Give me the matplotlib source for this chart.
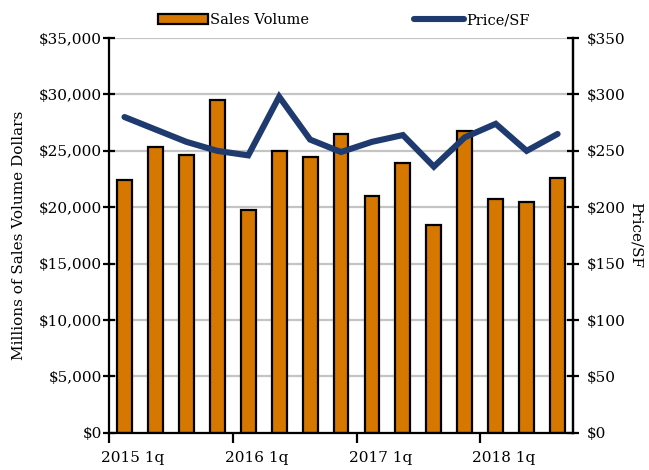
import matplotlib
matplotlib.use("Agg")
import matplotlib.pyplot as plt
import numpy as np
from matplotlib.lines import Line2D
from matplotlib.patches import Patch

quarters = ["2015 1q", "2015 2q", "2015 3q", "2015 4q",
            "2016 1q", "2016 2q", "2016 3q", "2016 4q",
            "2017 1q", "2017 2q", "2017 3q", "2017 4q",
            "2018 1q", "2018 2q", "2018 3q"]
sales_volume = [22400, 25300, 24600, 29500, 19800, 25000, 24500, 26500,
                21000, 23900, 18400, 26800, 20700, 20500, 22600]
price_sf = [280, 269, 258, 250, 246, 298, 260, 249, 258, 264, 236, 262, 274, 250, 265]
year_labels = ["2015 1q", "2016 1q", "2017 1q", "2018 1q"]

plt.rcParams['font.family'] = ['DejaVu Serif']

fig = plt.figure(figsize=(6.49, 4.70), dpi=100)
ax = fig.add_axes([0.168, 0.079, 0.715, 0.840])
x = np.arange(len(quarters))

ax.set_axisbelow(True)
ax.yaxis.grid(True, color='#c4c4c4', linewidth=1.6)
ax.bar(x, sales_volume, width=0.48, color='#D67800', edgecolor='black', linewidth=1.6, zorder=2)
ax.set_xlim(-0.5, len(quarters) - 0.5)
ax.set_ylim(0, 35000)
ax.set_yticks(np.arange(0, 35001, 5000))
ax.set_yticklabels([f"${v:,.0f}" for v in np.arange(0, 35001, 5000)], fontsize=11)
ax.tick_params(axis='y', direction='inout', length=8, width=1.6, pad=1)

# year ticks at category boundaries
major_pos = [quarters.index(q) - 0.5 for q in year_labels]
ax.set_xticks(major_pos)
ax.set_xticklabels([])
ax.tick_params(axis='x', which='major', direction='out', length=7, width=1.6)
ax.set_xticks([p + 0.77 for p in major_pos], minor=True)
ax.set_xticklabels(year_labels, minor=True, fontsize=11)
ax.tick_params(axis='x', which='minor', length=0, pad=13)

for s in ['top']:
    ax.spines[s].set_visible(False)
for s in ['left', 'bottom', 'right']:
    ax.spines[s].set_linewidth(1.6)
ax.set_ylabel("Millions of Sales Volume Dollars", fontsize=11, labelpad=9)

ax2 = ax.twinx()
ax2.plot(x, price_sf, color='#1F3A6E', linewidth=4.4, solid_capstyle='round', solid_joinstyle='miter', zorder=3)
ax2.set_ylim(0, 350)
ax2.set_yticks(np.arange(0, 351, 50))
ax2.set_yticklabels([f"${v:,.0f}" for v in np.arange(0, 351, 50)], fontsize=11)
ax2.tick_params(axis='y', direction='inout', length=8, width=1.6, pad=6)
ax2.spines['top'].set_visible(False)
ax2.spines['left'].set_visible(False)
ax2.spines['bottom'].set_visible(False)
ax2.spines['right'].set_linewidth(1.6)
ax2.set_ylabel("Price/SF", fontsize=11, rotation=270, labelpad=12)

handles = [Patch(facecolor='#D67800', edgecolor='black', linewidth=1.6),
           Line2D([0], [0], color='#1F3A6E', linewidth=4.4, solid_capstyle='round')]
fig.legend(handles, ["Sales Volume", "Price/SF"], loc='upper center', bbox_to_anchor=(0.53, 1.0),
           ncol=2, frameon=False, fontsize=10.5, handlelength=3.4, handleheight=0.6,
           handletextpad=0.15, columnspacing=7.2)

fig.savefig("out.png", dpi=100)
